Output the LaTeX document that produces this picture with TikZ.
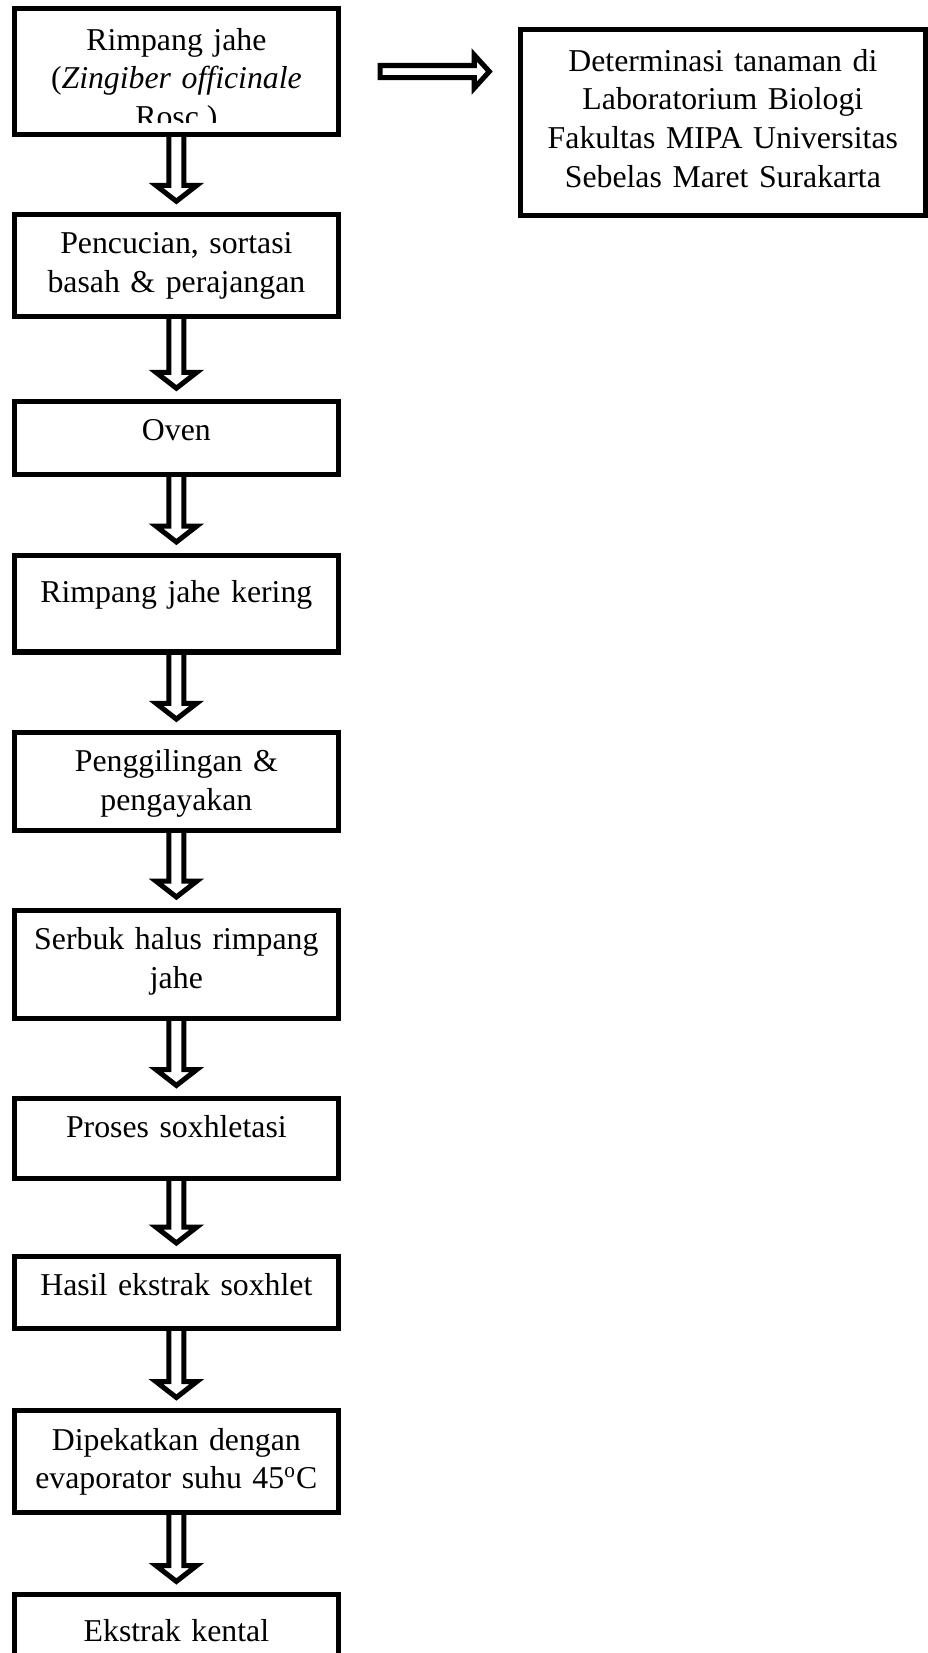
\documentclass[tikz,border=0pt]{standalone}
\usepackage{fontspec}
\setmainfont{Liberation Serif}
\usetikzlibrary{calc}

\tikzset{
  stepbox/.style={draw, line width=1.9pt, anchor=north, text width=4cm, align=center,
    minimum width=4.3cm, inner ysep=6pt, text height=8.9pt, font=\fontsize{12}{14.6}\selectfont},
  hollow/.style={draw, line width=1.9pt, line join=miter}
}

\begin{document}
\begin{tikzpicture}
\useasboundingbox (0,0) rectangle (12.31,-21.93);
\begin{scope}[even odd rule]
\clip (0,0) rectangle (12.31,-21.93) (0.23,-1.63) rectangle (4.45,-1.75);

\node[stepbox, text height=9.65pt, text depth=25.9pt] (jahe) at (2.34,-0.08) {Rimpang jahe\\(\textit{Zingiber officinale}\\Rosc.)};
\node[stepbox, text depth=17.6pt] (cuci) at (2.34,-2.81) {Pencucian, sortasi\\basah \& perajangan};
\node[stepbox, text depth=6.65pt] (oven) at (2.34,-5.29) {Oven};
\node[stepbox, text height=11.9pt, text depth=12.7pt] (kering) at (2.34,-7.33) {Rimpang jahe kering};
\node[stepbox, text depth=16.1pt] (giling) at (2.34,-9.68) {Penggilingan \&\\pengayakan};
\node[stepbox, text depth=19.9pt] (serbuk) at (2.34,-12.04) {Serbuk halus rimpang\\jahe};
\node[stepbox, text depth=9.3pt] (soxhlet) at (2.34,-14.54) {Proses soxhletasi};
\node[stepbox, text depth=6.3pt] (hasil) at (2.34,-16.63) {Hasil ekstrak soxhlet};
\node[stepbox, text depth=17.6pt] (pekat) at (2.34,-18.68) {Dipekatkan dengan\\evaporator suhu 45\textsuperscript{o}C};
\node[stepbox, text height=11.9pt, text depth=16.1pt] (kental) at (2.34,-21.12) {Ekstrak kental};

\node[stepbox, text width=5cm, minimum width=5.37cm, text height=9.65pt, text depth=48.5pt] (det) at (9.59,-0.36) {Determinasi tanaman di\\Laboratorium Biologi\\Fakultas MIPA Universitas\\Sebelas Maret Surakarta};

\foreach \a/\b in {jahe/cuci, cuci/oven, oven/kering, kering/giling, giling/serbuk, serbuk/soxhlet, soxhlet/hasil, hasil/pekat, pekat/kental}{
  \coordinate (tip) at ($(\b.north)+(0,0.14)$);
  \draw[hollow] ($(\a.south)+(-0.1,0.03)$) -- ($(tip)+(-0.1,0.21)$) -- ($(tip)+(-0.27,0.21)$) -- (tip)
    -- ($(tip)+(0.27,0.21)$) -- ($(tip)+(0.1,0.21)$) -- ($(\a.south)+(0.1,0.03)$);
}

\coordinate (htip) at ($(det.west |- jahe.east)+(-0.38,0)$);
\draw[hollow] ($(htip)+(-0.2,0.08)$) -- ($(jahe.east)+(0.52,0.08)$) -- ($(jahe.east)+(0.52,-0.08)$)
  -- ($(htip)+(-0.2,-0.08)$) -- ($(htip)+(-0.2,-0.22)$) -- (htip) -- ($(htip)+(-0.2,0.22)$) -- cycle;
\end{scope}
\end{tikzpicture}
\end{document}
